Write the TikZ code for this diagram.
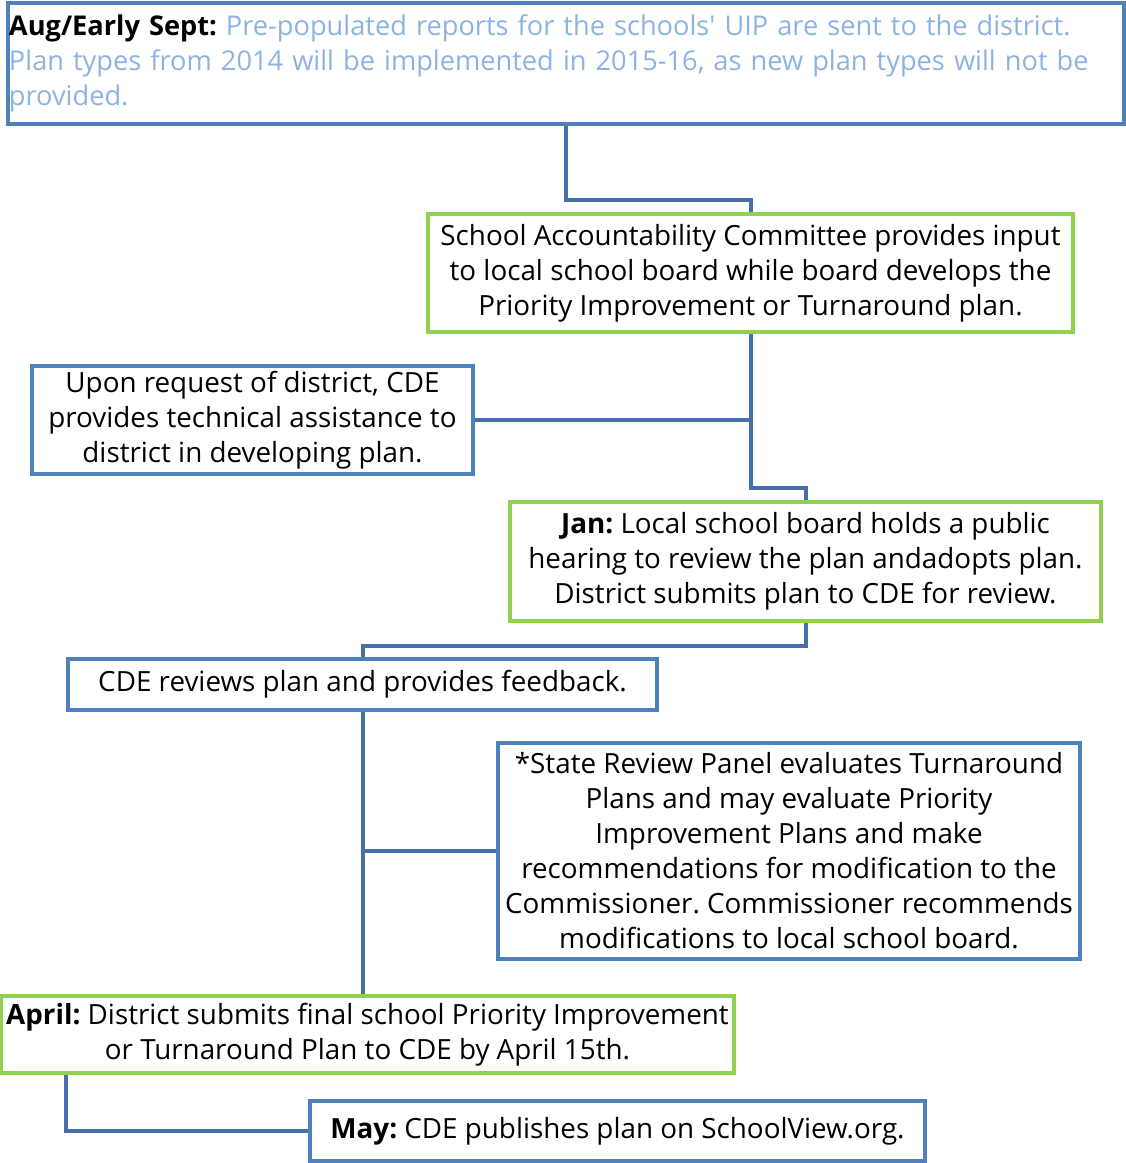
\documentclass[tikz,border=0pt]{standalone}
\usepackage{fontspec}
\setmainfont{Open Sans}
\frenchspacing
\definecolor{boxblue}{HTML}{4F81BD}
\definecolor{boxgreen}{HTML}{92D050}
\definecolor{connblue}{HTML}{4670A6}
\definecolor{lightblue}{HTML}{8DB3E2}
\begin{document}
\begin{tikzpicture}[x=1pt,y=-1pt,
  box/.style={draw=boxblue,line width=4pt,fill=white,inner sep=1pt,align=center,
    font=\fontsize{27.8}{35}\selectfont\frenchspacing,text=black},
  gbox/.style={box,draw=boxgreen},
  conn/.style={draw=connblue,line width=4pt}]
\useasboundingbox (0,0) rectangle (1126,1163);
\node[box,minimum width=1116pt,minimum height=121pt,text width=1114pt,align=left,
  font=\fontsize{27.2}{35}\selectfont\frenchspacing] (top) at (566,63.5)
  {\textbf{Aug/Early Sept:} \textcolor{lightblue}{Pre-populated reports for the schools\textquotesingle{} UIP are sent to the district.}\\
   \textcolor{lightblue}{Plan types from 2014 will be implemented in 2015-16, as new plan types will not be}\\
   \textcolor{lightblue}{provided.}};
\node[gbox,minimum width=645pt,minimum height=118pt] (sac) at (750.5,273)
  {School Accountability Committee provides input\\to local school board while board develops the\\Priority Improvement or Turnaround plan.};
\node[box,minimum width=441pt,minimum height=108pt] (upon) at (252.5,420)
  {Upon request of district, CDE\\provides technical assistance to\\district in developing plan.};
\node[gbox,minimum width=591pt,minimum height=119pt] (jan) at (805.5,561.5)
  {\textbf{Jan:} Local school board holds a public\\hearing to review the plan andadopts plan.\\District submits plan to CDE for review.};
\node[box,minimum width=589pt,minimum height=51pt] (cde) at (362.5,684.5)
  {CDE reviews plan and provides feedback.};
\node[box,minimum width=582pt,minimum height=216pt] (srp) at (789,850.5)
  {*State Review Panel evaluates Turnaround\\Plans and may evaluate Priority\\Improvement Plans and make\\recommendations for modification to the\\Commissioner. Commissioner recommends\\modifications to local school board.};
\node[gbox,minimum width=733pt,minimum height=77pt] (april) at (367.5,1034.5)
  {\textbf{April:} District submits final school Priority Improvement\\or Turnaround Plan to CDE by April 15th.};
\node[box,minimum width=615pt,minimum height=60pt] (may) at (617.5,1131)
  {\textbf{May:} CDE publishes plan on SchoolView.org.};
\draw[conn] (top.south) |- ([yshift=12pt]sac.north) -- (sac.north);
\draw[conn] (sac.south) |- ([yshift=12pt]jan.north) -- (jan.north);
\draw[conn] (upon.east) -- (upon.east -| sac.south);
\draw[conn] (jan.south) |- ([yshift=11pt]cde.north) -- (cde.north);
\draw[conn] (cde.south) -- (cde.south |- april.north);
\draw[conn] (srp.west) -- (srp.west -| cde.south);
\draw[conn] ([xshift=67pt]april.south west) |- (may.west);
\end{tikzpicture}
\end{document}
